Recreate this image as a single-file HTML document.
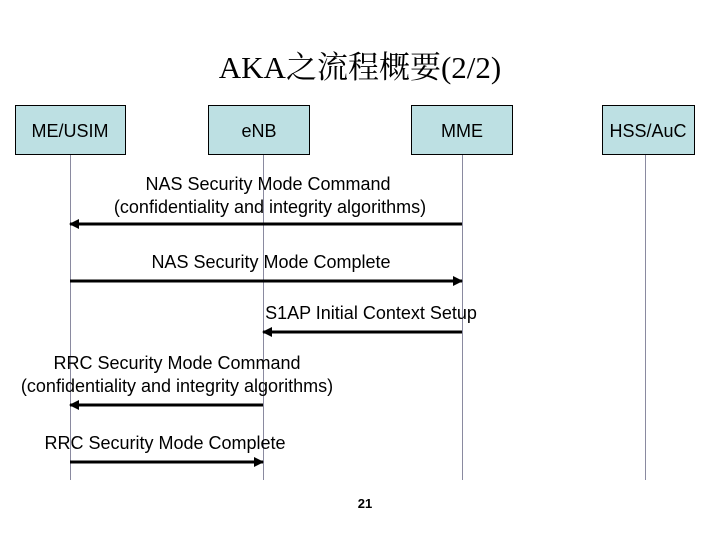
<!DOCTYPE html>
<html><head><meta charset="utf-8"><style>
body{margin:0;background:#fff;width:720px;height:540px;overflow:hidden}
svg text{font-family:"Liberation Sans",sans-serif;font-size:18px;fill:#000}
</style></head><body>
<svg width="720" height="540" viewBox="0 0 720 540">
<defs><marker id="a" markerWidth="10" markerHeight="10" refX="9" refY="5" orient="auto" markerUnits="userSpaceOnUse"><path d="M0,0 L10,5 L0,10z" fill="#000"/></marker></defs>
<text x="360" y="78" text-anchor="middle" style="font-family:'Liberation Serif','Noto Serif CJK SC',serif;font-size:31px">AKA之流程概要(2/2)</text>
<g fill="#bde0e3" stroke="#000" stroke-width="1">
<rect x="15.5" y="105.5" width="110" height="49"/>
<rect x="208.5" y="105.5" width="101" height="49"/>
<rect x="411.5" y="105.5" width="101" height="49"/>
<rect x="602.5" y="105.5" width="92" height="49"/>
</g>
<text x="70" y="137" text-anchor="middle">ME/USIM</text>
<text x="259" y="137" text-anchor="middle">eNB</text>
<text x="462" y="137" text-anchor="middle">MME</text>
<text x="648" y="137" text-anchor="middle">HSS/AuC</text>
<g stroke="#8a8aa0" stroke-width="1">
<line x1="70.5" y1="155" x2="70.5" y2="480"/>
<line x1="263.5" y1="155" x2="263.5" y2="480"/>
<line x1="462.5" y1="155" x2="462.5" y2="480"/>
<line x1="645.5" y1="155" x2="645.5" y2="480"/>
</g>
<g stroke="#000" stroke-width="3" marker-end="url(#a)">
<line x1="462" y1="224" x2="70" y2="224"/>
<line x1="70" y1="281" x2="462" y2="281"/>
<line x1="462" y1="332" x2="263" y2="332"/>
<line x1="263" y1="405" x2="70" y2="405"/>
<line x1="70" y1="462" x2="263" y2="462"/>
</g>
<text x="268" y="190" text-anchor="middle">NAS Security Mode Command</text>
<text x="270" y="213" text-anchor="middle">(confidentiality and integrity algorithms)</text>
<text x="271" y="268" text-anchor="middle">NAS Security Mode Complete</text>
<text x="371" y="319" text-anchor="middle">S1AP Initial Context Setup</text>
<text x="177" y="369" text-anchor="middle">RRC Security Mode Command</text>
<text x="177" y="392" text-anchor="middle">(confidentiality and integrity algorithms)</text>
<text x="165" y="449" text-anchor="middle">RRC Security Mode Complete</text>
<text x="365" y="508" text-anchor="middle" style="font-size:13px;font-weight:bold">21</text>
</svg>
</body></html>
